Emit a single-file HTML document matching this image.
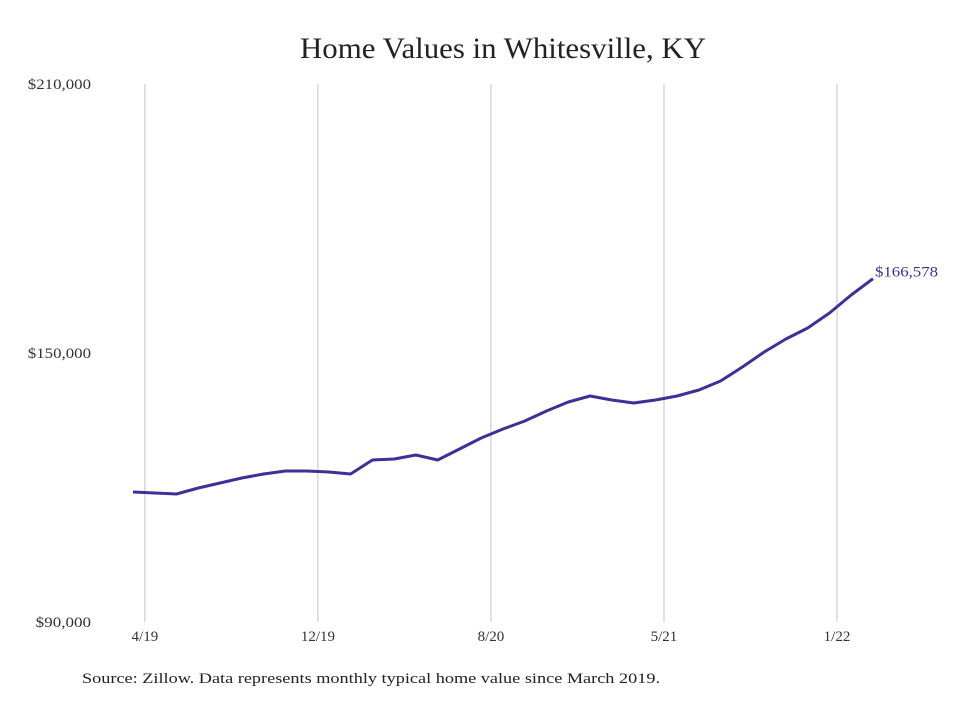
<!DOCTYPE html>
<html><head><meta charset="utf-8"><style>
body{margin:0;background:#fff;}
svg text{font-family:"Liberation Serif",serif;}
</style></head><body>
<svg width="980" height="699" viewBox="0 0 980 699" xmlns="http://www.w3.org/2000/svg">
<rect width="980" height="699" fill="#fff"/>
<text x="300" y="58" textLength="406" lengthAdjust="spacingAndGlyphs" font-size="30" fill="#222">Home Values in Whitesville, KY</text>
<g id="grid"></g>
<g id="yticks"></g>
<g id="xticks"></g>
<path id="line" fill="none" stroke="#3b3196" stroke-width="3" stroke-linejoin="round"/>
<text id="endlabel" font-size="15" fill="#3b3196" textLength="63" lengthAdjust="spacingAndGlyphs"></text>
<text x="82" y="683" font-size="15" fill="#222" textLength="578" lengthAdjust="spacingAndGlyphs">Source: Zillow. Data represents monthly typical home value since March 2019.</text>
</svg>
<script>
const values=[119000,118770,118550,119890,121000,122120,123010,123680,123680,123460,123010,126130,126360,127250,126130,128590,131040,133050,134830,137060,139070,140410,139520,138850,139520,140410,141750,143760,146880,150220,153120,155580,158920,162940,166578];
const yTicks=[90000,150000,210000];
const yTickLabels=["$90,000","$150,000","$210,000"];
const xTickIdx=[0.5,8.45,16.4,24.35,32.3];
const xTickLabels=["4/19","12/19","8/20","5/21","1/22"];
const endLabel="$166,578";
const NS="http://www.w3.org/2000/svg";
const y=v=>622-(v-90000)/120000*538;
const x=i=>133+i*(740/(values.length-1));
const grid=document.getElementById('grid'),yt=document.getElementById('yticks'),xt=document.getElementById('xticks');
xTickIdx.forEach((t,k)=>{
  const l=document.createElementNS(NS,'line');
  
  
  const px=x(t)+1;
  l.setAttribute('x1',px);l.setAttribute('x2',px);l.setAttribute('y1',84);l.setAttribute('y2',622);
  l.setAttribute('stroke','#c4c4c4');l.setAttribute('stroke-width','1');
  grid.appendChild(l);
  const tx=document.createElementNS(NS,'text');
  
  
  tx.setAttribute('x',px);tx.setAttribute('y',641);tx.setAttribute('text-anchor','middle');
  tx.setAttribute('font-size','15');tx.setAttribute('fill','#333');
  tx.textContent=xTickLabels[k];xt.appendChild(tx);
});
yTicks.forEach((v,k)=>{
  const tx=document.createElementNS(NS,'text');
  
  
  const w=yTickLabels[k].length*7.9;
  tx.setAttribute('x',91-w);tx.setAttribute('y',y(v)+5);
  tx.setAttribute('textLength',w);tx.setAttribute('lengthAdjust','spacingAndGlyphs');
  tx.setAttribute('font-size','15');tx.setAttribute('fill','#333');
  tx.textContent=yTickLabels[k];yt.appendChild(tx);
});
document.getElementById('line').setAttribute('d',values.map((v,i)=>(i?'L':'M')+x(i).toFixed(1)+','+y(v).toFixed(1)).join(''));
const el=document.getElementById('endlabel');
el.setAttribute('x',x(values.length-1)+2);el.setAttribute('y',y(values[values.length-1])-2);
el.textContent=endLabel;
</script>
</body></html>
